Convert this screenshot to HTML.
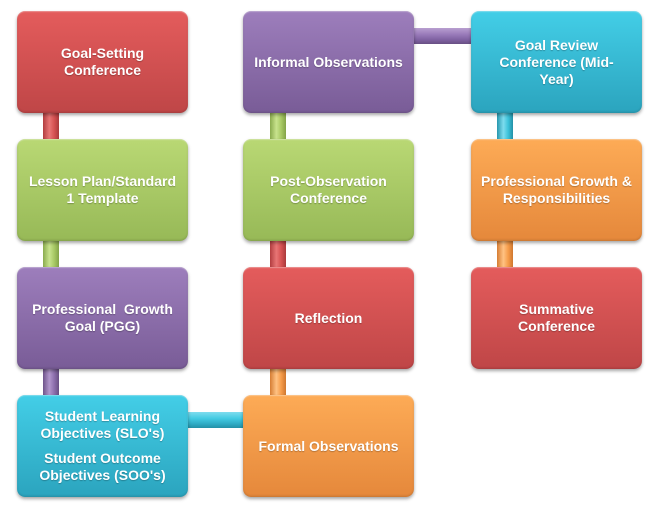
<!DOCTYPE html>
<html><head><meta charset="utf-8"><style>
html,body{margin:0;padding:0;background:#fff;}
body{width:655px;height:515px;position:relative;overflow:hidden;font-family:"Liberation Sans",Arial,sans-serif;}
.b{position:absolute;width:171px;height:102px;border-radius:8px;box-sizing:border-box;display:flex;align-items:center;justify-content:center;text-align:center;color:#fff;font-weight:bold;font-size:14px;line-height:17px;text-shadow:0 1px 1px rgba(0,0,0,0.25);box-shadow:0 2px 3px rgba(0,0,0,0.35), inset 0 1px 1px rgba(255,255,255,0.35), inset 0 -1px 2px rgba(0,0,0,0.15);}
.c{position:absolute;}
.v{width:16px;}
.h{height:16px;}
.red{background:linear-gradient(180deg,#e45c5c,#bf4647);}
.green{background:linear-gradient(180deg,#b9d874,#97b957);}
.purple{background:linear-gradient(180deg,#9d7ebc,#795c97);}
.cyan{background:linear-gradient(180deg,#43cee7,#2ba4be);}
.orange{background:linear-gradient(180deg,#fdab56,#e5883b);}
.vred{background:linear-gradient(90deg,#b23d3f,#e87575 40%,#d65252 70%,#a9393b);}
.vgreen{background:linear-gradient(90deg,#8aab4e,#c8e38d 40%,#a8c965 70%,#83a348);}
.vpurple{background:linear-gradient(90deg,#6e538a,#b196cc 40%,#8d6fad 70%,#684f83);}
.vcyan{background:linear-gradient(90deg,#2797ae,#7ddcee 40%,#3cc2da 70%,#2390a6);}
.vorange{background:linear-gradient(90deg,#d67d33,#ffc283 40%,#f69c4a 70%,#cf772f);}
.hpurple{background:linear-gradient(180deg,#b89fd0,#9a7bba 40%,#7e60a0 75%,#684f83);}
.hcyan{background:linear-gradient(180deg,#7fdcee,#43cbe3 40%,#2eaac3 75%,#2390a6);}
</style></head><body>
<!-- connectors -->
<div class="c v vred" style="left:43px;top:110px;height:32px;"></div>
<div class="c v vgreen" style="left:43px;top:238px;height:32px;"></div>
<div class="c v vpurple" style="left:43px;top:366px;height:32px;"></div>
<div class="c h hcyan" style="left:185px;top:412px;width:60px;"></div>
<div class="c v vorange" style="left:270px;top:366px;height:32px;"></div>
<div class="c v vred" style="left:270px;top:238px;height:32px;"></div>
<div class="c v vgreen" style="left:270px;top:110px;height:32px;"></div>
<div class="c h hpurple" style="left:412px;top:28px;width:61px;"></div>
<div class="c v vcyan" style="left:497px;top:110px;height:32px;"></div>
<div class="c v vorange" style="left:497px;top:238px;height:32px;"></div>

<!-- column 1 -->
<div class="b red" style="left:17px;top:11px;">Goal-Setting<br>Conference</div>
<div class="b green" style="left:17px;top:139px;">Lesson Plan/Standard<br>1 Template</div>
<div class="b purple" style="left:17px;top:267px;">Professional&nbsp; Growth<br>Goal (PGG)</div>
<div class="b cyan" style="left:17px;top:395px;"><div>Student Learning<br>Objectives (SLO's)<div style="height:8px"></div>Student Outcome<br>Objectives (SOO's)</div></div>

<!-- column 2 -->
<div class="b purple" style="left:243px;top:11px;">Informal Observations</div>
<div class="b green" style="left:243px;top:139px;">Post-Observation<br>Conference</div>
<div class="b red" style="left:243px;top:267px;">Reflection</div>
<div class="b orange" style="left:243px;top:395px;">Formal Observations</div>

<!-- column 3 -->
<div class="b cyan" style="left:471px;top:11px;">Goal Review<br>Conference (Mid-<br>Year)</div>
<div class="b orange" style="left:471px;top:139px;">Professional Growth &amp;<br>Responsibilities</div>
<div class="b red" style="left:471px;top:267px;">Summative<br>Conference</div>
</body></html>
